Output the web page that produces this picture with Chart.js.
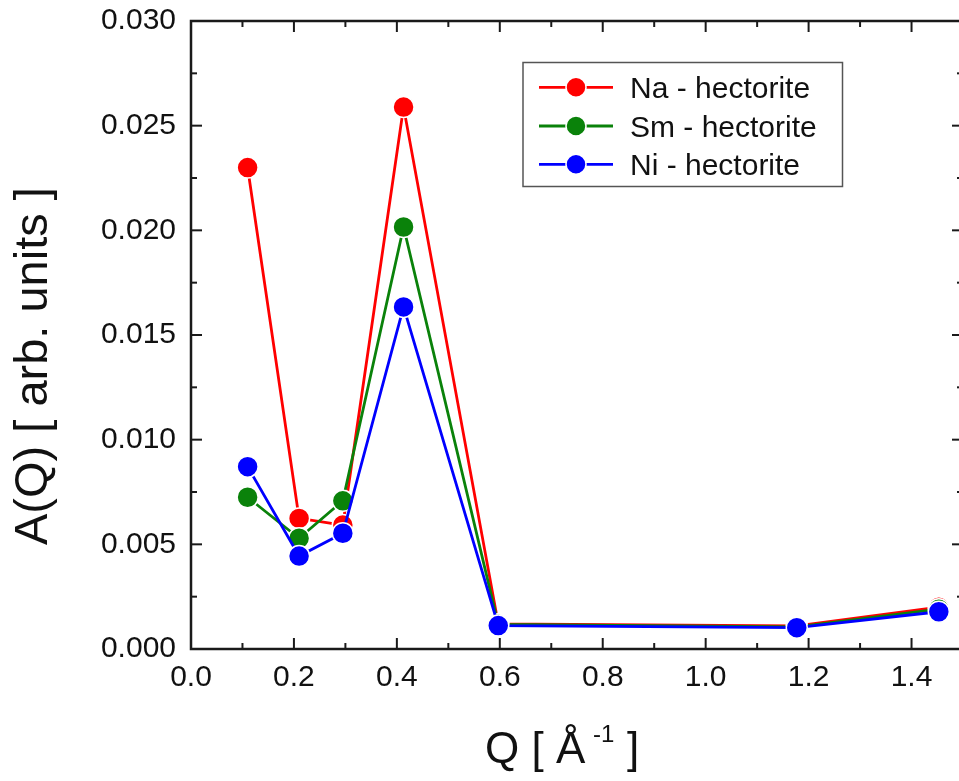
<!DOCTYPE html>
<html><head><meta charset="utf-8">
<script src="https://cdn.jsdelivr.net/npm/chart.js@4/dist/chart.umd.min.js"></script>
<style>
html,body{margin:0;padding:0;overflow:hidden;background:#fff;width:959px;height:781px}
#wrap{width:975px;height:781px;position:relative}
</style>
</head><body><div id="wrap"><canvas id="c"></canvas></div>
<script>
// ---- data ----
const qValues  = [0.11, 0.21, 0.295, 0.413, 0.597, 1.177, 1.453];
const naValues = [0.0230, 0.00624, 0.00592, 0.02589, 0.00120, 0.00110, 0.00200];
const smValues = [0.00725, 0.00529, 0.00708, 0.02016, 0.00118, 0.00106, 0.00190];
const niValues = [0.00871, 0.00444, 0.00553, 0.01634, 0.00112, 0.00102, 0.00178];
const seriesLabels = ['Na - hectorite', 'Sm - hectorite', 'Ni - hectorite'];
const seriesColors = ['#ff0000', '#0a820a', '#0000ff'];
const xMajorTicks = [0.0, 0.2, 0.4, 0.6, 0.8, 1.0, 1.2, 1.4];
const xMinorTicks = [0.1, 0.3, 0.5, 0.7, 0.9, 1.1, 1.3, 1.5];
const yMajorTicks = [0.000, 0.005, 0.010, 0.015, 0.020, 0.025, 0.030];
const yMinorTicks = [0.0025, 0.0075, 0.0125, 0.0175, 0.0225, 0.0275];
const xTitle = ['Q [ Å', '-1', ']'];
const yTitle = 'A(Q) [ arb. units ]';

const FONT = '"Liberation Sans", Arial, Helvetica, sans-serif';
const seriesValues = [naValues, smValues, niValues];

const datasets = seriesValues.map((vals, i) => ({
  label: seriesLabels[i],
  data: qValues.map((q, j) => ({x: q, y: vals[j]})),
  borderColor: seriesColors[i],
  backgroundColor: seriesColors[i],
  pointBackgroundColor: seriesColors[i],
  pointBorderColor: '#ffffff',
  pointBorderWidth: 1.5,
  pointRadius: 10.5,
  pointHoverRadius: 10.5,
  borderWidth: 2.8,
  tension: 0,
  order: 3 - i,
  clip: false
}));

const framePlugin = {
  id: 'frame',
  beforeDatasetsDraw(chart) {
    const {ctx, chartArea: a, scales: {x, y}} = chart;
    ctx.save();
    ctx.strokeStyle = '#1a1a1a';
    ctx.lineWidth = 2.5;
    ctx.strokeRect(a.left, a.top, a.right - a.left, a.bottom - a.top);
    ctx.lineWidth = 2;
    const tick = (x1, y1, x2, y2) => { ctx.beginPath(); ctx.moveTo(x1, y1); ctx.lineTo(x2, y2); ctx.stroke(); };
    const doX = (vals, len) => vals.forEach(v => {
      const px = x.getPixelForValue(v);
      if (px < a.left - 1 || px > a.right + 1) return;
      tick(px, a.bottom, px, a.bottom - len);
      tick(px, a.top, px, a.top + len);
    });
    const doY = (vals, len) => vals.forEach(v => {
      const py = y.getPixelForValue(v);
      tick(a.left, py, a.left + len, py);
      tick(a.right, py, a.right - len, py);
    });
    doX(xMajorTicks, 11); doX(xMinorTicks, 6);
    doY(yMajorTicks, 11); doY(yMinorTicks, 6);
    ctx.restore();
  },
  afterDraw(chart) {
    const {ctx} = chart;
    ctx.save();
    ctx.fillStyle = '#111';
    // x title with superscript
    ctx.textBaseline = 'alphabetic';
    ctx.textAlign = 'left';
    ctx.font = '44px ' + FONT;
    ctx.fillText(xTitle[0], 485, 763);
    ctx.font = '24px ' + FONT;
    ctx.fillText(xTitle[1], 593, 742);
    ctx.font = '44px ' + FONT;
    ctx.fillText(xTitle[2], 627, 763);
    // y title
    ctx.translate(47, 545);
    ctx.rotate(-Math.PI / 2);
    ctx.font = '47px ' + FONT;
    ctx.fillText(yTitle, 0, 0);
    ctx.restore();

    // legend
    ctx.save();
    ctx.strokeStyle = '#555';
    ctx.lineWidth = 1.5;
    ctx.strokeRect(523, 62.5, 319.5, 124);
    const rows = [87.3, 126, 164.3];
    seriesLabels.forEach((lab, i) => {
      const cy = rows[i];
      ctx.strokeStyle = seriesColors[i];
      ctx.lineWidth = 2.8;
      ctx.beginPath(); ctx.moveTo(539, cy); ctx.lineTo(613, cy); ctx.stroke();
      ctx.fillStyle = seriesColors[i];
      ctx.beginPath(); ctx.arc(576, cy, 10, 0, Math.PI * 2); ctx.fill();
      ctx.strokeStyle = '#fff'; ctx.lineWidth = 1.5; ctx.stroke();
      ctx.fillStyle = '#111';
      ctx.font = '30px ' + FONT;
      ctx.textBaseline = 'alphabetic';
      ctx.textAlign = 'left';
      ctx.fillText(lab, 630, cy + 11);
    });
    ctx.restore();
  }
};

const zeroPad = s => { s.paddingTop = 0; s.paddingBottom = 0; s.paddingLeft = 0; s.paddingRight = 0; };

new Chart(document.getElementById('c'), {
  type: 'line',
  data: {datasets},
  options: {
    responsive: true,
    maintainAspectRatio: false,
    animation: false,
    events: [],
    layout: {padding: {top: 21, right: 10, left: 0, bottom: 0}},
    plugins: {legend: {display: false}, tooltip: {enabled: false}},
    scales: {
      x: {
        type: 'linear', min: 0, max: 1.5,
        grid: {display: false, drawTicks: false},
        border: {display: false},
        afterFit(s) { s.height = 132; zeroPad(s); },
        afterBuildTicks(s) { s.ticks = xMajorTicks.map(v => ({value: v})); },
        ticks: {
          padding: 11, color: '#111', maxRotation: 0, autoSkip: false,
          font: {size: 30, family: FONT},
          callback: v => Number(v).toFixed(1)
        }
      },
      y: {
        type: 'linear', min: 0, max: 0.03,
        grid: {display: false, drawTicks: false},
        border: {display: false},
        afterFit(s) { s.width = 191; zeroPad(s); },
        afterBuildTicks(s) { s.ticks = yMajorTicks.map(v => ({value: v})); },
        ticks: {
          padding: 15, color: '#111', autoSkip: false,
          font: {size: 30, family: FONT},
          callback: v => Number(v).toFixed(3)
        }
      }
    }
  },
  plugins: [framePlugin]
});
</script>
</body></html>
